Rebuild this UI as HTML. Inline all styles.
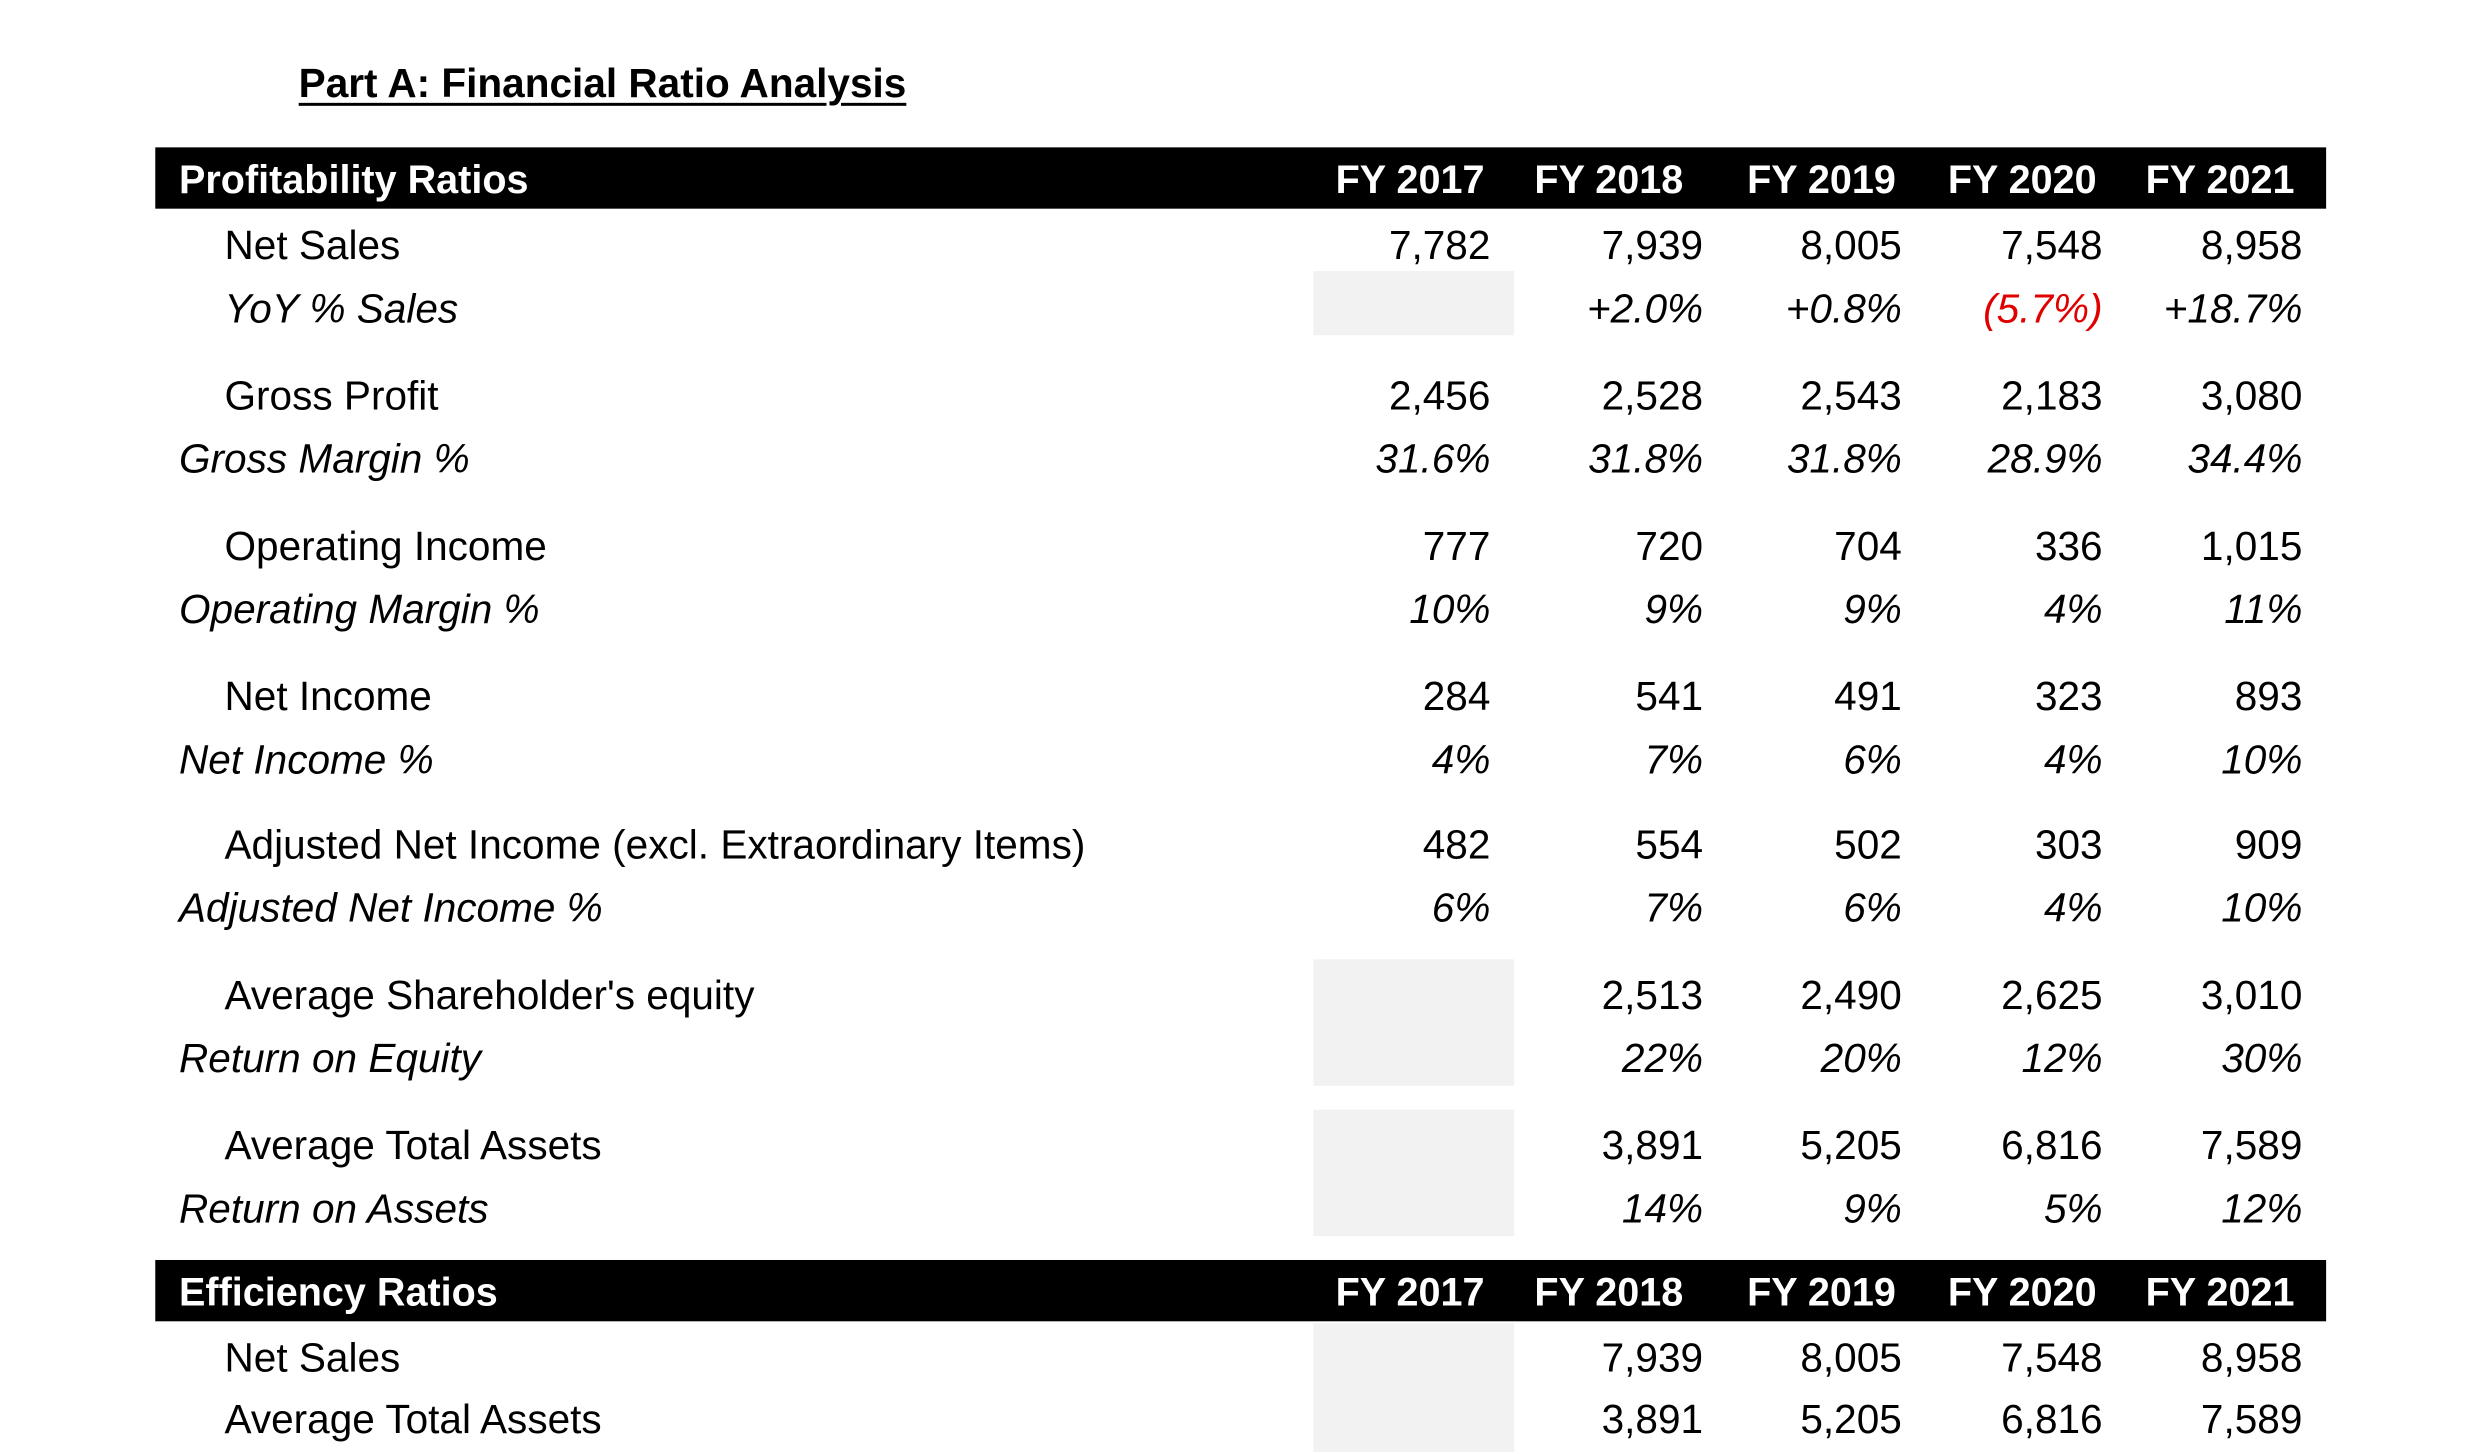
<!DOCTYPE html>
<html><head><meta charset="utf-8"><style>
body{margin:0;width:2481px;height:1451px;background:#fff;position:relative;overflow:hidden;font-family:"Liberation Sans",sans-serif;font-size:41px;color:#000}
#w{position:absolute;left:0;top:0;width:2481px;height:1470px;transform:scale(0.989);transform-origin:0 0}
#w div{position:absolute;white-space:nowrap}
.t{height:50px;line-height:50px}
.r{text-align:right;width:300px}
.i{font-style:italic}
.bar{background:#000;left:157px;width:2195px;height:62px}
.h{color:#fff;font-weight:bold;height:62px;line-height:66px;font-size:40px}
.g{background:#f2f2f2;left:1328px;width:203px}
</style></head><body><div id="w">
<div style="left:302px;top:61px;font-weight:bold;font-size:41px;text-decoration:underline;text-decoration-thickness:3px;text-underline-offset:6px">Part A: Financial Ratio Analysis</div>

<div class="bar" style="top:149px"></div>
<div class="h" style="left:181px;top:149px">Profitability Ratios</div>
<div class="h r" style="left:1201px;top:149px">FY 2017</div>
<div class="h r" style="left:1402px;top:149px">FY 2018</div>
<div class="h r" style="left:1617px;top:149px">FY 2019</div>
<div class="h r" style="left:1820px;top:149px">FY 2020</div>
<div class="h r" style="left:2020px;top:149px">FY 2021</div>

<div class="g" style="top:274px;height:65px"></div>
<div class="g" style="top:970px;height:128px"></div>
<div class="g" style="top:1122px;height:128px"></div>
<div class="g" style="top:1338px;height:130px"></div>

<div class="bar" style="top:1274px"></div>
<div class="h" style="left:181px;top:1274px">Efficiency Ratios</div>
<div class="h r" style="left:1201px;top:1274px">FY 2017</div>
<div class="h r" style="left:1402px;top:1274px">FY 2018</div>
<div class="h r" style="left:1617px;top:1274px">FY 2019</div>
<div class="h r" style="left:1820px;top:1274px">FY 2020</div>
<div class="h r" style="left:2020px;top:1274px">FY 2021</div>

<div class="t" style="left:227px;top:223px">Net Sales</div>
<div class="t r" style="left:1207px;top:223px">7,782</div><div class="t r" style="left:1422px;top:223px">7,939</div><div class="t r" style="left:1623px;top:223px">8,005</div><div class="t r" style="left:1826px;top:223px">7,548</div><div class="t r" style="left:2028px;top:223px">8,958</div>

<div class="t i" style="left:227px;top:287px">YoY % Sales</div>
<div class="t r i" style="left:1422px;top:287px">+2.0%</div><div class="t r i" style="left:1623px;top:287px">+0.8%</div><div class="t r i" style="left:1826px;top:287px;color:#e00000">(5.7%)</div><div class="t r i" style="left:2028px;top:287px">+18.7%</div>

<div class="t" style="left:227px;top:375px">Gross Profit</div>
<div class="t r" style="left:1207px;top:375px">2,456</div><div class="t r" style="left:1422px;top:375px">2,528</div><div class="t r" style="left:1623px;top:375px">2,543</div><div class="t r" style="left:1826px;top:375px">2,183</div><div class="t r" style="left:2028px;top:375px">3,080</div>

<div class="t i" style="left:181px;top:439px">Gross Margin %</div>
<div class="t r i" style="left:1207px;top:439px">31.6%</div><div class="t r i" style="left:1422px;top:439px">31.8%</div><div class="t r i" style="left:1623px;top:439px">31.8%</div><div class="t r i" style="left:1826px;top:439px">28.9%</div><div class="t r i" style="left:2028px;top:439px">34.4%</div>

<div class="t" style="left:227px;top:527px">Operating Income</div>
<div class="t r" style="left:1207px;top:527px">777</div><div class="t r" style="left:1422px;top:527px">720</div><div class="t r" style="left:1623px;top:527px">704</div><div class="t r" style="left:1826px;top:527px">336</div><div class="t r" style="left:2028px;top:527px">1,015</div>

<div class="t i" style="left:181px;top:591px">Operating Margin %</div>
<div class="t r i" style="left:1207px;top:591px">10%</div><div class="t r i" style="left:1422px;top:591px">9%</div><div class="t r i" style="left:1623px;top:591px">9%</div><div class="t r i" style="left:1826px;top:591px">4%</div><div class="t r i" style="left:2028px;top:591px">11%</div>

<div class="t" style="left:227px;top:679px">Net Income</div>
<div class="t r" style="left:1207px;top:679px">284</div><div class="t r" style="left:1422px;top:679px">541</div><div class="t r" style="left:1623px;top:679px">491</div><div class="t r" style="left:1826px;top:679px">323</div><div class="t r" style="left:2028px;top:679px">893</div>

<div class="t i" style="left:181px;top:743px">Net Income %</div>
<div class="t r i" style="left:1207px;top:743px">4%</div><div class="t r i" style="left:1422px;top:743px">7%</div><div class="t r i" style="left:1623px;top:743px">6%</div><div class="t r i" style="left:1826px;top:743px">4%</div><div class="t r i" style="left:2028px;top:743px">10%</div>

<div class="t" style="left:227px;top:829px">Adjusted Net Income (excl. Extraordinary Items)</div>
<div class="t r" style="left:1207px;top:829px">482</div><div class="t r" style="left:1422px;top:829px">554</div><div class="t r" style="left:1623px;top:829px">502</div><div class="t r" style="left:1826px;top:829px">303</div><div class="t r" style="left:2028px;top:829px">909</div>

<div class="t i" style="left:181px;top:893px">Adjusted Net Income %</div>
<div class="t r i" style="left:1207px;top:893px">6%</div><div class="t r i" style="left:1422px;top:893px">7%</div><div class="t r i" style="left:1623px;top:893px">6%</div><div class="t r i" style="left:1826px;top:893px">4%</div><div class="t r i" style="left:2028px;top:893px">10%</div>

<div class="t" style="left:227px;top:981px">Average Shareholder's equity</div>
<div class="t r" style="left:1422px;top:981px">2,513</div><div class="t r" style="left:1623px;top:981px">2,490</div><div class="t r" style="left:1826px;top:981px">2,625</div><div class="t r" style="left:2028px;top:981px">3,010</div>

<div class="t i" style="left:181px;top:1045px">Return on Equity</div>
<div class="t r i" style="left:1422px;top:1045px">22%</div><div class="t r i" style="left:1623px;top:1045px">20%</div><div class="t r i" style="left:1826px;top:1045px">12%</div><div class="t r i" style="left:2028px;top:1045px">30%</div>

<div class="t" style="left:227px;top:1133px">Average Total Assets</div>
<div class="t r" style="left:1422px;top:1133px">3,891</div><div class="t r" style="left:1623px;top:1133px">5,205</div><div class="t r" style="left:1826px;top:1133px">6,816</div><div class="t r" style="left:2028px;top:1133px">7,589</div>

<div class="t i" style="left:181px;top:1197px">Return on Assets</div>
<div class="t r i" style="left:1422px;top:1197px">14%</div><div class="t r i" style="left:1623px;top:1197px">9%</div><div class="t r i" style="left:1826px;top:1197px">5%</div><div class="t r i" style="left:2028px;top:1197px">12%</div>

<div class="t" style="left:227px;top:1348px">Net Sales</div>
<div class="t r" style="left:1422px;top:1348px">7,939</div><div class="t r" style="left:1623px;top:1348px">8,005</div><div class="t r" style="left:1826px;top:1348px">7,548</div><div class="t r" style="left:2028px;top:1348px">8,958</div>

<div class="t" style="left:227px;top:1410px">Average Total Assets</div>
<div class="t r" style="left:1422px;top:1410px">3,891</div><div class="t r" style="left:1623px;top:1410px">5,205</div><div class="t r" style="left:1826px;top:1410px">6,816</div><div class="t r" style="left:2028px;top:1410px">7,589</div>
</div></body></html>
